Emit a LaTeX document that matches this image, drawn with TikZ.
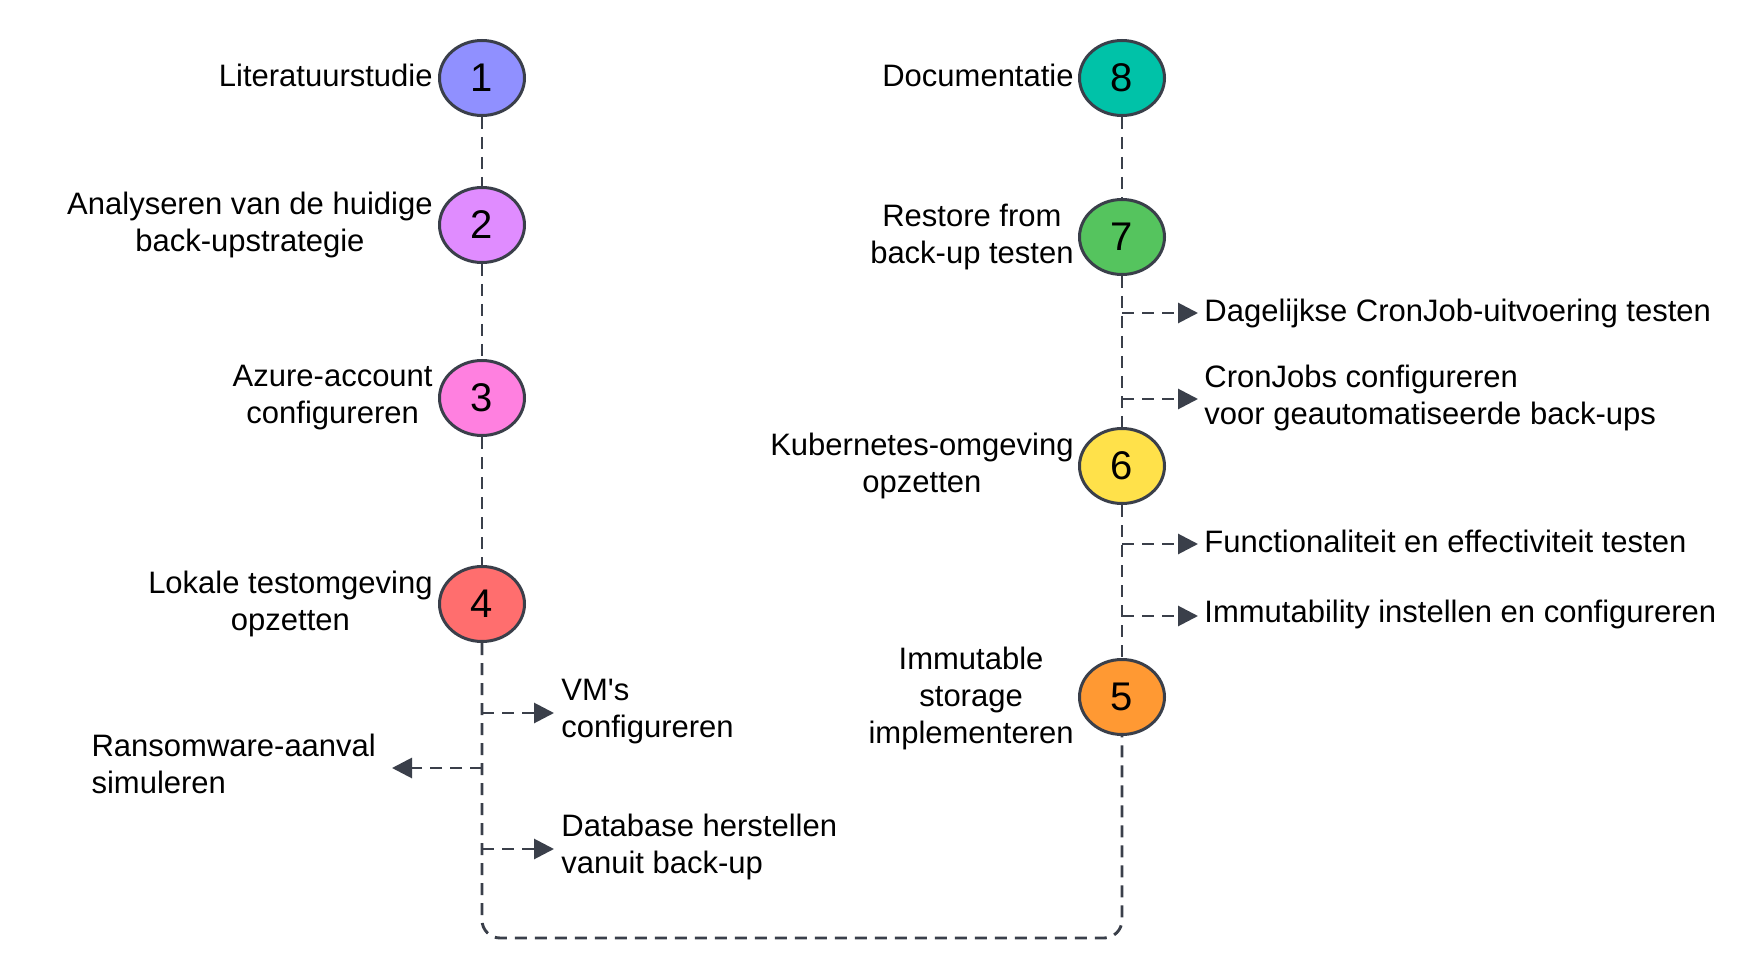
\documentclass[tikz,border=0pt]{standalone}
\usepackage{fontspec}
\setmainfont{Liberation Sans}[Ligatures=TeXOff]
\usetikzlibrary{arrows.meta,shapes.geometric}
\definecolor{edgec}{HTML}{3A3F4A}
\definecolor{cone}{HTML}{9090FF}
\definecolor{ctwo}{HTML}{E08CFF}
\definecolor{cthree}{HTML}{FF80E0}
\definecolor{cfour}{HTML}{FF6E6E}
\definecolor{cfive}{HTML}{FF9933}
\definecolor{csix}{HTML}{FFE14A}
\definecolor{cseven}{HTML}{55C45E}
\definecolor{ceight}{HTML}{00C2A8}
\begin{document}
\begin{tikzpicture}[x=0.5pt,y=-0.5pt,
  stepc/.style={ellipse, draw=edgec, line width=1.5pt, minimum width=42.5pt,
    minimum height=37.5pt, inner sep=0pt, font=\fontsize{20}{20}\selectfont},
  lbl/.style={inner sep=0pt, align=center, font=\fontsize{15.5}{18.5}\selectfont},
  dline/.style={draw=edgec, line width=1.45pt, dash pattern=on 6pt off 4pt},
  arr/.style={dline, -{Triangle[length=10pt,width=10pt]}}
]
\useasboundingbox (0,0) rectangle (1761,978);

% step circles
\node[stepc, fill=cone]   (c1) at (482,78)  {1};
\node[stepc, fill=ctwo]   (c2) at (482,225) {2};
\node[stepc, fill=cthree] (c3) at (482,398) {3};
\node[stepc, fill=cfour]  (c4) at (482,604) {4};
\node[stepc, fill=ceight] (c8) at (1122,78)  {8};
\node[stepc, fill=cseven] (c7) at (1122,237) {7};
\node[stepc, fill=csix]   (c6) at (1122,466) {6};
\node[stepc, fill=cfive]  (c5) at (1122,697) {5};

% step labels
\node[lbl, anchor=east] (l1) at ([xshift=-2.5pt,yshift=1.1pt]c1.west) {Literatuurstudie};
\node[lbl, anchor=east] (l2) at ([xshift=-2.5pt]c2.west) {Analyseren van de huidige\\back-upstrategie};
\node[lbl, anchor=east] (l3) at ([xshift=-2.5pt]c3.west) {Azure-account\\configureren};
\node[lbl, anchor=east] (l4) at ([xshift=-2.5pt]c4.west) {Lokale testomgeving\\opzetten};
\node[lbl, anchor=east] (l8) at ([xshift=-2pt,yshift=1.1pt]c8.west) {Documentatie};
\node[lbl, anchor=east] (l7) at ([xshift=-2pt]c7.west) {Restore from\\back-up testen};
\node[lbl, anchor=east] (l6) at ([xshift=-2pt]c6.west) {Kubernetes-omgeving\\opzetten};
\node[lbl, anchor=east] (l5) at ([xshift=-2pt,yshift=-0.6pt]c5.west) {Immutable\\storage\\implementeren};

% branch points
\coordinate (b7a) at (1122,313);
\coordinate (b7b) at (1122,399);
\coordinate (b6a) at (1122,544);
\coordinate (b6b) at (1122,616);
\coordinate (b4a) at (482,713);
\coordinate (b4b) at (482,768);
\coordinate (b4c) at (482,849);
\coordinate (bl) at (482,938);
\coordinate (br) at (1122,938);

% branch labels
\node[lbl, anchor=west, align=left, inner xsep=3pt] (t7a) at (1198,313) {Dagelijkse CronJob-uitvoering testen};
\node[lbl, anchor=west, align=left, inner xsep=3pt] (t7b) at (1198,398) {CronJobs configureren\\voor geautomatiseerde back-ups};
\node[lbl, anchor=west, align=left, inner xsep=3pt] (t6a) at (1198,541) {Functionaliteit en effectiviteit testen};
\node[lbl, anchor=west, align=left, inner xsep=3pt] (t6b) at (1198,614) {Immutability instellen en configureren};
\node[lbl, anchor=west, align=left, inner xsep=3.5pt] (t4a) at (554,712) {VM's\\configureren};
\node[lbl, anchor=east, align=left, text width=146pt, inner xsep=4pt] (t4b) at (392,764) {Ransomware-aanval\\simuleren};
\node[lbl, anchor=west, align=left, inner xsep=3.5pt] (t4c) at (554,847) {Database herstellen\\vanuit back-up};

% trunk connectors
\draw[dline] (c1.south) -- (c2.north);
\draw[dline] (c2.south) -- (c3.north);
\draw[dline] (c3.south) -- (c4.north);
\draw[dline] (c8.south) -- (c7.north);
\draw[dline] (c7.south) -- (c6.north);
\draw[dline] (c6.south) -- (c5.north);
\draw[dline, rounded corners=9pt] (c4.south) -- (bl) -- (br) -- (c5.south);

% branch arrows
\draw[arr] (b7a) -- (b7a -| t7a.west);
\draw[arr] (b7b) -- (b7b -| t7b.west);
\draw[arr] (b6a) -- (b6a -| t6a.west);
\draw[arr] (b6b) -- (b6b -| t6b.west);
\draw[arr] (b4a) -- (b4a -| t4a.west);
\draw[arr] (b4b) -- (b4b -| t4b.east);
\draw[arr] (b4c) -- (b4c -| t4c.west);
\end{tikzpicture}
\end{document}
